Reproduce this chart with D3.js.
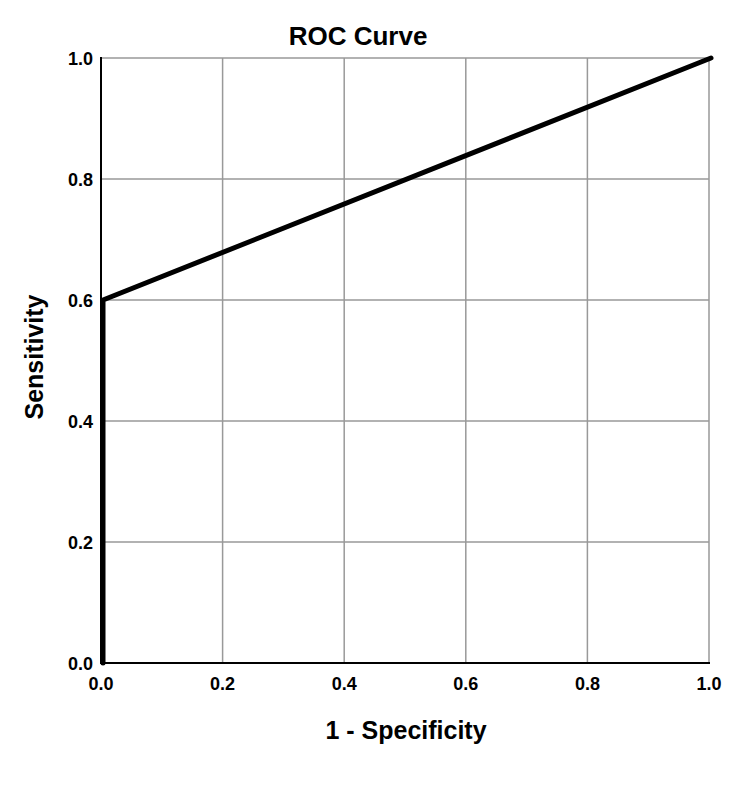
<!DOCTYPE html>
<html>
<head>
<meta charset="utf-8">
<script src="https://cdn.jsdelivr.net/npm/d3@7"></script>
<style>
body { margin: 0; background: #fff; }
text { font-family: "Liberation Sans", Arial, sans-serif; font-weight: bold; fill: #000; }
</style>
</head>
<body>
<div id="chart"></div>
<script>
var fpr = [0, 0, 1]
var tpr = [0, 0.6, 1]
var ticks = [0, 0.2, 0.4, 0.6, 0.8, 1.0]

var width = 750
var height = 788
var mLeft = 101, mRight = 709, mTop = 58, mBottom = 663

var svg = d3.select("#chart").append("svg")
    .attr("width", width)
    .attr("height", height)

var x = d3.scaleLinear().domain([0, 1]).range([mLeft, mRight])
var y = d3.scaleLinear().domain([0, 1]).range([mBottom, mTop])

// grid
svg.append("g").selectAll("line")
    .data(ticks.slice(1))
    .enter().append("line")
    .attr("x1", d => x(d)).attr("x2", d => x(d))
    .attr("y1", mTop).attr("y2", mBottom)
    .attr("stroke", "#999").attr("stroke-width", 1.5)

svg.append("g").selectAll("line")
    .data(ticks.slice(1))
    .enter().append("line")
    .attr("x1", mLeft).attr("x2", mRight)
    .attr("y1", d => y(d)).attr("y2", d => y(d))
    .attr("stroke", "#999").attr("stroke-width", 1.5)

// axes lines
svg.append("line")
    .attr("x1", mLeft).attr("x2", mLeft)
    .attr("y1", mTop - 1).attr("y2", mBottom + 1)
    .attr("stroke", "#000").attr("stroke-width", 2)
svg.append("line")
    .attr("x1", mLeft - 1).attr("x2", mRight + 1)
    .attr("y1", mBottom).attr("y2", mBottom)
    .attr("stroke", "#000").attr("stroke-width", 2)

// tick labels
svg.append("g").selectAll("text")
    .data(ticks)
    .enter().append("text")
    .attr("x", mLeft - 8)
    .attr("y", d => y(d) + 7)
    .attr("text-anchor", "end")
    .style("font-size", "18px")
    .text(d => d.toFixed(1))

svg.append("g").selectAll("text")
    .data(ticks)
    .enter().append("text")
    .attr("x", d => x(d))
    .attr("y", mBottom + 27)
    .attr("text-anchor", "middle")
    .style("font-size", "18px")
    .text(d => d.toFixed(1))

// curve
svg.append("path")
    .datum(fpr.map((f, i) => [f, tpr[i]]))
    .attr("d", d3.line().x(d => x(d[0]) + 2).y(d => y(d[1])))
    .attr("fill", "none")
    .attr("stroke", "#000")
    .attr("stroke-width", 5)
    .attr("stroke-linejoin", "round")
    .attr("stroke-linecap", "round")

// titles
svg.append("text")
    .attr("x", 358).attr("y", 45)
    .attr("text-anchor", "middle")
    .style("font-size", "26px")
    .text("ROC Curve")

svg.append("text")
    .attr("x", 406).attr("y", 739)
    .attr("text-anchor", "middle")
    .style("font-size", "25px")
    .text("1 - Specificity")

svg.append("text")
    .attr("transform", "translate(43,357) rotate(-90)")
    .attr("text-anchor", "middle")
    .style("font-size", "25px")
    .text("Sensitivity")
</script>
</body>
</html>
